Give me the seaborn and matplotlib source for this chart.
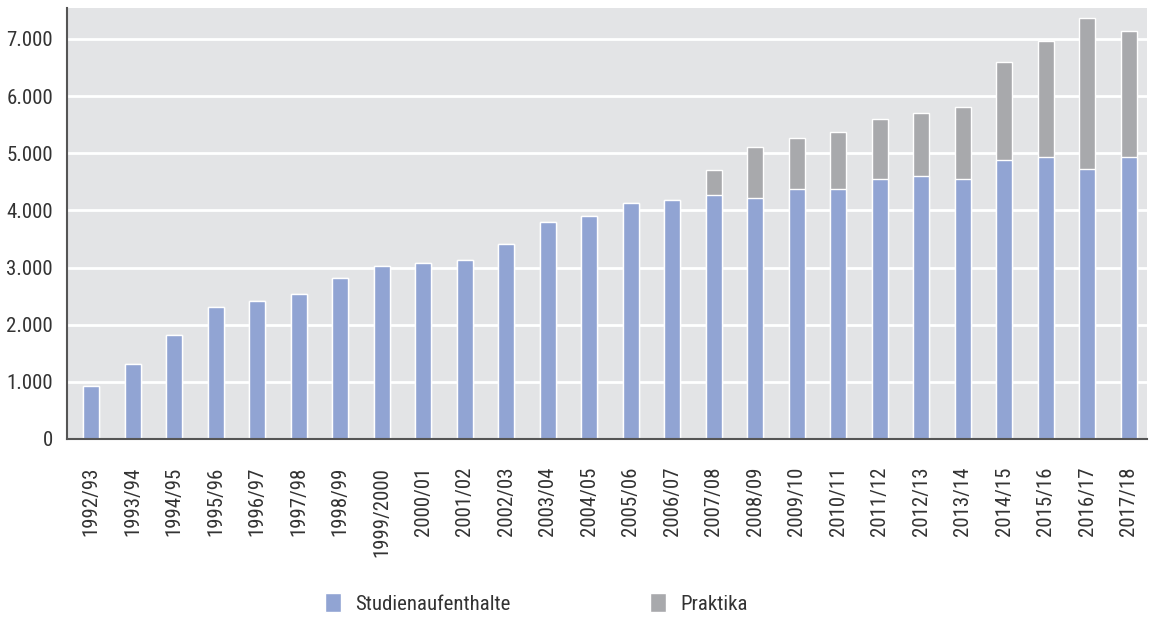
import pandas as pd
import numpy as np
import matplotlib
matplotlib.use("Agg")
from matplotlib import pyplot as plt
from matplotlib import font_manager
from matplotlib.ticker import FuncFormatter
from matplotlib.patches import Patch
import seaborn as sns

# Studienjahre und Werte
jahre = ['1992/93', '1993/94', '1994/95', '1995/96', '1996/97', '1997/98', '1998/99',
         '1999/2000', '2000/01', '2001/02', '2002/03', '2003/04', '2004/05', '2005/06',
         '2006/07', '2007/08', '2008/09', '2009/10', '2010/11', '2011/12', '2012/13',
         '2013/14', '2014/15', '2015/16', '2016/17', '2017/18']
studienaufenthalte = [930, 1320, 1820, 2310, 2420, 2530, 2810, 3020, 3080, 3140, 3410, 3800,
                      3910, 4130, 4180, 4265, 4215, 4380, 4380, 4545, 4605, 4545, 4880, 4930,
                      4715, 4930]
praktika = [0, 0, 0, 0, 0, 0, 0, 0, 0, 0, 0, 0, 0, 0, 0, 445, 885, 880, 990, 1050, 1095,
            1265, 1710, 2040, 2645, 2210]

df = pd.DataFrame({'Jahr': jahre, 'Studienaufenthalte': studienaufenthalte, 'Praktika': praktika})
df['Gesamt'] = df['Studienaufenthalte'] + df['Praktika']

blau = '#91a4d3'
grau = '#a8a9ac'
hintergrund = '#e3e4e6'

sns.set_theme(style='white')
namen = {f.name for f in font_manager.fontManager.ttflist}
familie = [f for f in ['Liberation Sans Narrow', 'Roboto Condensed', 'Roboto'] if f in namen]
plt.rcParams['font.family'] = familie + ['DejaVu Sans']

fig = plt.figure(figsize=(11.49, 6.17), dpi=100)
ax = fig.add_axes([0.0583, 0.2885, 0.9397, 0.6985])
ax.set_facecolor(hintergrund)

sns.barplot(data=df, x='Jahr', y='Gesamt', color=grau, width=0.385, saturation=1, ax=ax)
sns.barplot(data=df, x='Jahr', y='Studienaufenthalte', color=blau, width=0.385, saturation=1, ax=ax)

ax.set_ylim(0, 7540)
ax.set_xlim(-0.585, 25.43)
ax.set_yticks(range(0, 8000, 1000))
ax.yaxis.set_major_formatter(FuncFormatter(lambda v, p: f"{v:,.0f}".replace(",", ".")))
ax.grid(axis='y', color='white', linewidth=2)
ax.set_axisbelow(True)
ax.set_xlabel('')
ax.set_ylabel('')

for s in ['top', 'right']:
    ax.spines[s].set_visible(False)
for s in ['left', 'bottom']:
    ax.spines[s].set_color('#555555')
    ax.spines[s].set_linewidth(1.5)

ax.tick_params(axis='y', length=5, width=1, color='#555555', pad=5, labelsize=15, labelcolor='#333333')
ax.tick_params(axis='x', length=0, pad=20, labelsize=15, labelcolor='#333333', rotation=90)

handles = [Patch(facecolor=blau, label='Studienaufenthalte'), Patch(facecolor=grau, label='Praktika')]
fig.legend(handles=handles, loc='center', bbox_to_anchor=(0.467, 0.022), ncol=2, frameon=False,
           fontsize=15, handlelength=0.75, handleheight=1.0, handletextpad=0.7, columnspacing=6.7,
           labelcolor='#333333')

fig.savefig('out.png', dpi=100)
